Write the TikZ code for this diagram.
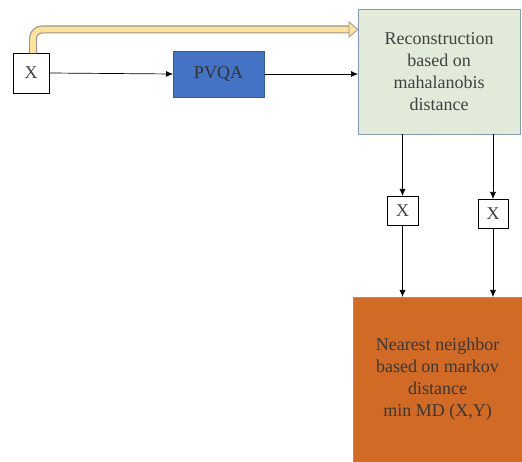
\documentclass[tikz,border=0pt]{standalone}
\usepackage{fontspec}
\setmainfont{Liberation Serif}
\usetikzlibrary{arrows.meta}
\definecolor{recfill}{RGB}{226,235,218}
\definecolor{recline}{RGB}{132,151,176}
\definecolor{pvqafill}{RGB}{68,114,196}
\definecolor{pvqaline}{RGB}{52,90,160}
\definecolor{nnfill}{RGB}{208,106,36}
\definecolor{txtgray}{RGB}{64,64,64}
\definecolor{fatfill}{RGB}{255,226,150}
\definecolor{fatline}{RGB}{150,150,150}
\begin{document}
\begin{tikzpicture}[x=1bp,y=-1bp,
  font=\fontsize{18bp}{22bp}\selectfont,
  every node/.style={inner sep=0pt, outer sep=0pt, align=center, text=txtgray},
  xbox/.style={draw=black, line width=0.8bp, fill=white},
  conn/.style={draw=black, line width=0.7bp, -{Latex[length=7bp,width=6bp]}}]
\clip (0,0) rectangle (522,462);
\fill[white] (0,0) rectangle (522,462);

% input sample
\node[xbox, minimum width=36bp, minimum height=40bp] (x0) at (31,73) {X};
% quantiser block
\node[draw=pvqaline, line width=0.6bp, fill=pvqafill, minimum width=91bp, minimum height=46bp, text=black!80] (pvqa) at (218.5,74) {PVQA};
% reconstruction block
\node[draw=recline, line width=0.8bp, fill=recfill, minimum width=162bp, minimum height=125bp] (rec) at (439,71.5)
  {Reconstruction\\based on\\mahalanobis\\distance};
% reconstructed samples
\node[xbox, minimum width=31bp, minimum height=29bp] (x1) at (402.5,210.5) {X};
\node[xbox, minimum width=30bp, minimum height=29bp] (x2) at (493,213.5) {X};
% nearest neighbour block
\node[draw=recline, line width=0.6bp, fill=nnfill, minimum width=169bp, minimum height=165bp, text=black!78] (nn) at (437.5,379.5)
  {Nearest neighbor\\based on markov\\distance\\min MD (X,Y)};

% wide bypass arrow from the input to the reconstruction block
\draw[line width=8bp, fatline, rounded corners=9bp] (33,53.4) -- (33,29.5) -- (351,29.5);
\draw[line width=5.6bp, fatfill, rounded corners=9bp] (33,53) -- (33,29.5) -- (352,29.5);
\coordinate (tip) at (rec.west |- 0,29.5);
\filldraw[fill=fatfill, draw=fatline, line width=0.8bp, line join=miter]
  ([xshift=-9bp,yshift=-7.5bp]tip) -- (tip) -- ([xshift=-9bp,yshift=7.5bp]tip) -- cycle;

% connectors
\draw[conn] (x0.east) -- (pvqa.west);
\draw[conn] (pvqa.east) -- (rec.west |- pvqa.east);
\draw[conn] (rec.south -| x1) -- (x1.north);
\draw[conn] (rec.south -| x2) -- (x2.north);
\draw[conn] (x1.south) -- (nn.north -| x1);
\draw[conn] (x2.south) -- (nn.north -| x2);
\end{tikzpicture}
\end{document}
